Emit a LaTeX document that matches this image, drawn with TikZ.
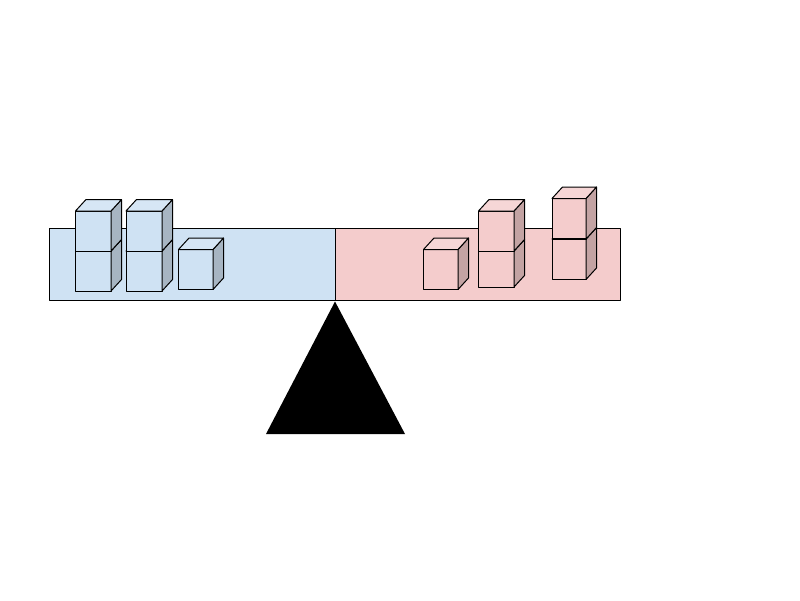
\documentclass[tikz,border=0pt]{standalone}
\definecolor{bluefront}{HTML}{CFE2F3}
\definecolor{blueside}{HTML}{A7B5C2}
\definecolor{bluetop}{HTML}{D6E6F5}
\definecolor{pinkfront}{HTML}{F4CCCC}
\definecolor{pinkside}{HTML}{C3A3A3}
\definecolor{pinktop}{HTML}{F6D6D6}
\tikzset{edge/.style={draw=black,line width=1pt,line join=round}}
% #1 x1, #2 x2, #3 ytop, #4 ybot, #5 color prefix
\newcommand\mycube[5]{%
  \fill[#5front,edge] (#1,#3) rectangle (#2,#4);
  \fill[#5side,edge] (#2,#4) -- (#2,#3) -- ++(10.5,-11.5) -- ++(0,#4-#3) -- cycle;
  \fill[#5top,edge] (#1,#3) -- ++(10.5,-11.5) -- ++(#2-#1,0) -- (#2,#3) -- cycle;
}
\begin{document}
\begin{tikzpicture}[x=1pt,y=-1pt]
\useasboundingbox (0,0) rectangle (800,600);
\fill[white] (0,0) rectangle (800,600);
% beam
\fill[bluefront,edge] (49.5,228.5) rectangle (335,300);
\fill[pinkfront,edge] (335,228.5) rectangle (620.5,300);
% fulcrum
\fill[black] (335,301.5) -- (405,434) -- (266,434) -- cycle;
% left cubes
\mycube{75.5}{111}{251}{291}{blue}
\mycube{75.5}{111}{211}{251}{blue}
\mycube{126}{162}{251}{291}{blue}
\mycube{126}{162}{211}{251}{blue}
\mycube{178.5}{213}{249.5}{289.5}{blue}
% right cubes
\mycube{423.5}{458}{249.5}{289.5}{pink}
\mycube{478.5}{514}{251}{287}{pink}
\mycube{478.5}{514}{211}{251}{pink}
\mycube{552}{586}{239}{279.5}{pink}
\mycube{552}{586}{198.5}{239}{pink}
\draw[line width=2pt] (552,239) -- (586,239);
\end{tikzpicture}
\end{document}
